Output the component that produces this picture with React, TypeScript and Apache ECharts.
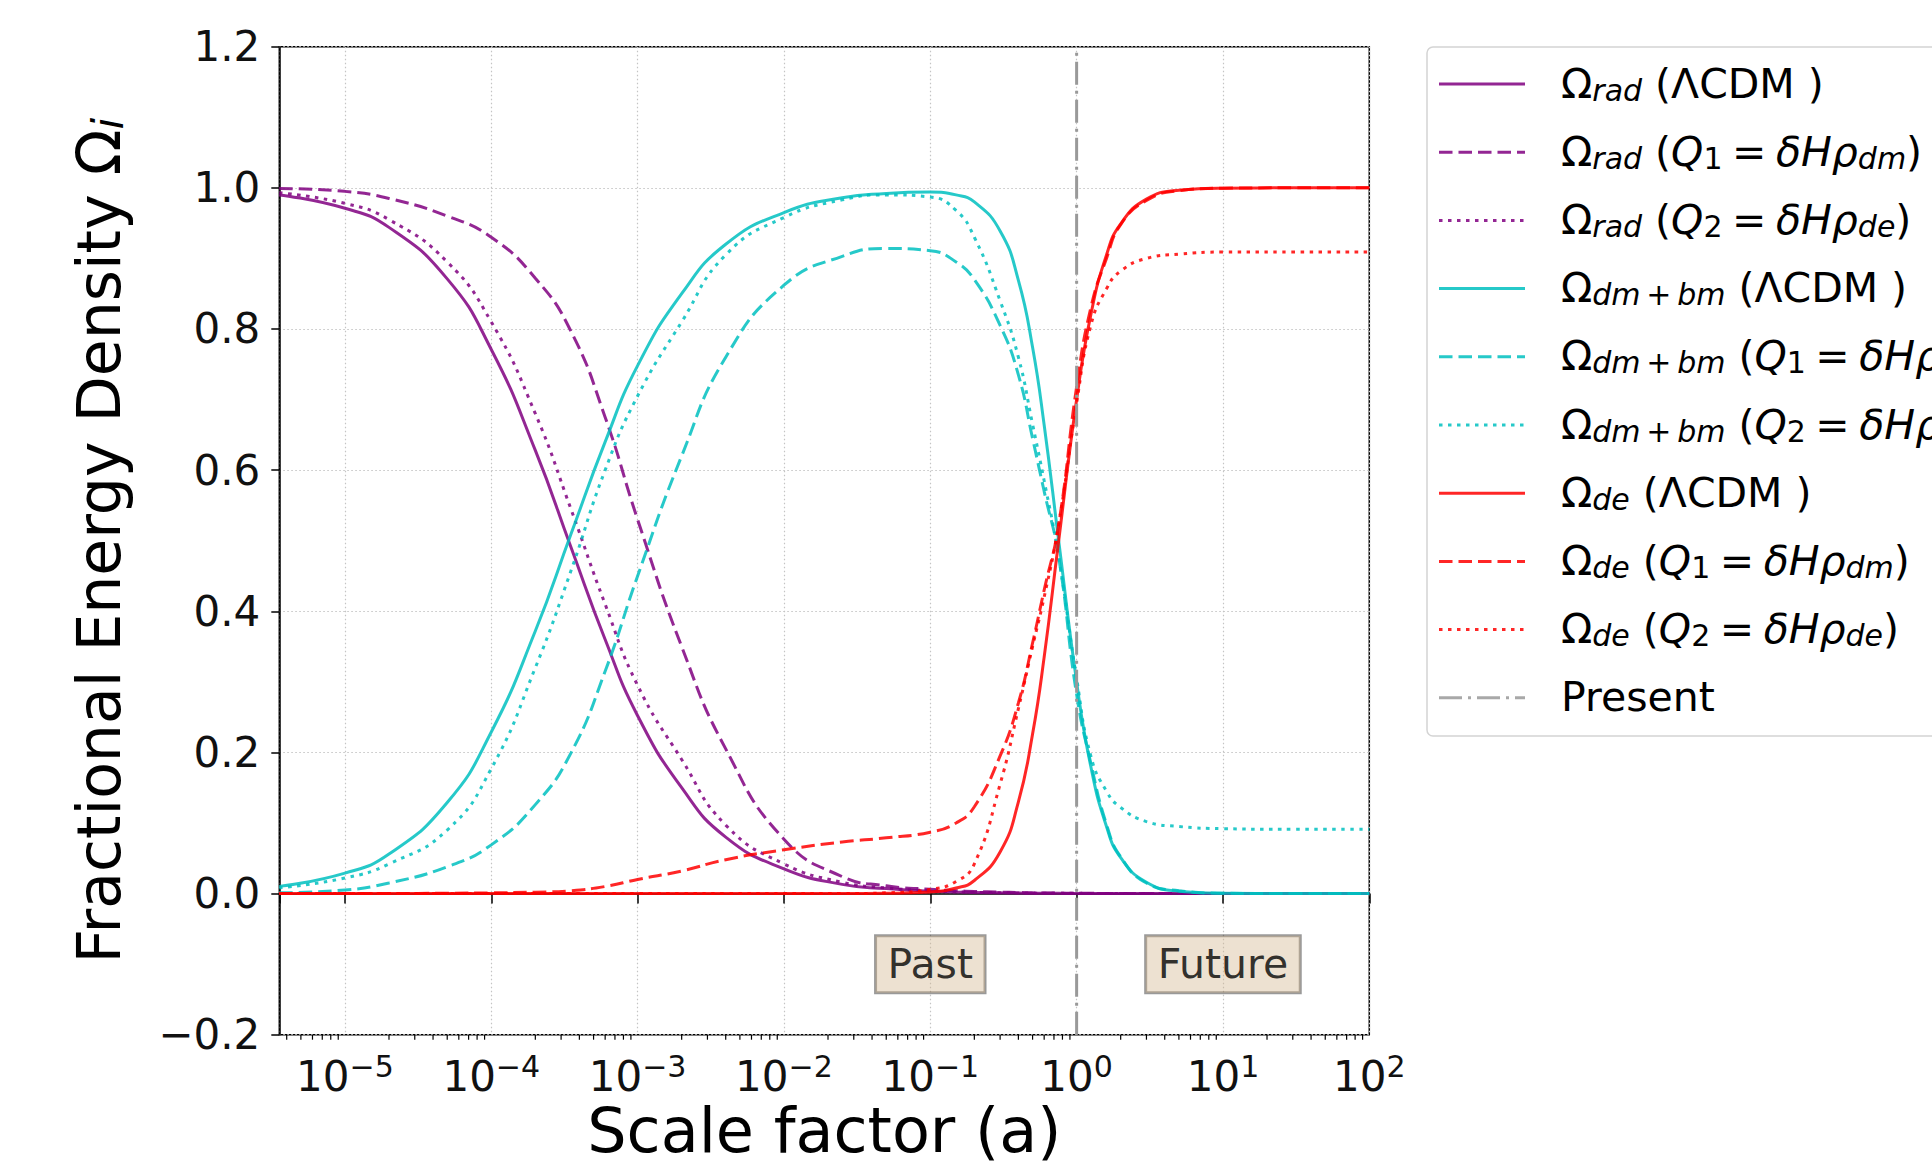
import React, { useEffect, useRef } from "react";
import * as echarts from "echarts";

const FONT = "DejaVu Sans";
const PURPLE = "#800080";
const CYAN = "#00BFBF";
const RED = "#FF0000";
const GRAY = "#999999";

// Scale factor a (x values, log axis)
const scaleFactor = [3.56e-6, 1e-5, 2e-5, 5e-5, 1e-4, 2e-4, 3.5e-4, 6e-4, 1e-3, 2e-3, 4e-3, 1e-2, 2.5e-2, 5e-2, 0.1, 0.15, 0.2, 0.3, 0.4, 0.5, 0.6, 0.75, 1.0, 1.25, 1.6, 2.0, 3.0, 5.0, 10, 30, 100];

// Radiation
const radLCDM = [0.990, 0.971, 0.944, 0.871, 0.771, 0.628, 0.491, 0.360, 0.252, 0.150, 0.080, 0.035, 0.013, 0.007, 0.0033, 0.0022, 0.0016, 0.0010, 0.0007, 0.0005, 0.0004, 0.0003, 0.0002, 0.0001, 0.0001, 0.0001, 0, 0, 0, 0, 0];
const radQ1 = [0.999, 0.995, 0.985, 0.96, 0.93, 0.872, 0.797, 0.675, 0.53, 0.35, 0.205, 0.077, 0.024, 0.011, 0.006, 0.004, 0.003, 0.002, 0.0015, 0.001, 0.0008, 0.0006, 0.0004, 0.0003, 0.0002, 0.0001, 0, 0, 0, 0, 0];
const radQ2 = [0.993, 0.978, 0.955, 0.895, 0.81, 0.68, 0.545, 0.41, 0.295, 0.19, 0.097, 0.042, 0.016, 0.008, 0.004, 0.0025, 0.0018, 0.0012, 0.0008, 0.0006, 0.0005, 0.0004, 0.0003, 0.0002, 0.0001, 0.0001, 0, 0, 0, 0, 0];

// Dark + baryonic matter
const dmLCDM = [0.010, 0.029, 0.056, 0.129, 0.229, 0.372, 0.509, 0.640, 0.748, 0.850, 0.920, 0.965, 0.986, 0.992, 0.994, 0.990, 0.980, 0.939, 0.869, 0.774, 0.664, 0.504, 0.300, 0.180, 0.095, 0.051, 0.016, 0.0034, 0.0004, 0, 0];
const dmQ1 = [0.001, 0.005, 0.015, 0.038, 0.069, 0.126, 0.199, 0.315, 0.45, 0.62, 0.76, 0.862, 0.903, 0.914, 0.911, 0.895, 0.87, 0.805, 0.735, 0.645, 0.57, 0.48, 0.282, 0.185, 0.098, 0.052, 0.015, 0.004, 0.0005, 0, 0];
const dmQ2 = [0.008, 0.022, 0.042, 0.09, 0.177, 0.32, 0.457, 0.60, 0.705, 0.81, 0.905, 0.958, 0.983, 0.99, 0.987, 0.968, 0.93, 0.84, 0.76, 0.665, 0.585, 0.48, 0.305, 0.195, 0.145, 0.122, 0.102, 0.095, 0.092, 0.091, 0.091];

// Dark energy
const deLCDM = [0, 0, 0, 0, 0, 0, 0, 0, 0, 0, 0, 0, 0.00004, 0.0004, 0.0023, 0.0078, 0.0185, 0.059, 0.13, 0.226, 0.335, 0.496, 0.70, 0.82, 0.905, 0.949, 0.984, 0.9966, 0.9996, 1.0, 1.0];
const deQ1 = [0, 0, 0, 0.0005, 0.001, 0.002, 0.004, 0.01, 0.02, 0.032, 0.048, 0.062, 0.073, 0.079, 0.087, 0.1, 0.123, 0.195, 0.27, 0.355, 0.43, 0.52, 0.718, 0.83, 0.9, 0.948, 0.982, 0.996, 0.9995, 1.0, 1.0];
const deQ2 = [0, 0, 0, 0, 0, 0, 0, 0, 0, 0, 0, 0, 0, 0.001, 0.006, 0.017, 0.042, 0.155, 0.262, 0.35, 0.42, 0.52, 0.695, 0.805, 0.857, 0.882, 0.9, 0.906, 0.909, 0.909, 0.909];

// Present marker
const presentX = [1, 1];
const presentY = [-0.2, 1.2];

// Annotations
const annotationText = ["Past", "Future"];
const annotationX = [0.1, 10];
const annotationY = [-0.1, -0.1];

// Axes
const xMin = 3.56e-6;
const xMax = 100;
const yMin = -0.2;
const yMax = 1.2;
const yInterval = 0.2;
const minorMultipliers = [2, 3, 4, 5, 6, 7, 8, 9];
const minorDecades = [-6, -5, -4, -3, -2, -1, 0, 1];

const DASHED = [13.5, 6];
const DOTTED = [3.5, 5.5];
const DASHDOT = [23, 6, 3, 6];

const EQ1 = "{n| (}{i|Q}{sn|1}{sp| }{n|=}{sp| }{i|δHρ}{si|dm}{n|)}";
const EQ2 = "{n| (}{i|Q}{sn|2}{sp| }{n|=}{sp| }{i|δHρ}{si|de}{n|)}";
const DMBM = "{o|Ω}{si|dm}{ss| }{sn|+}{ss| }{si|bm}";

const seriesDefs = [
  { name: "Ω_rad (ΛCDM )", values: radLCDM, color: PURPLE, dash: "solid" as any, legend: "{o|Ω}{si|rad}{n| (ΛCDM )}" },
  { name: "Ω_rad (Q1 = δHρ_dm)", values: radQ1, color: PURPLE, dash: DASHED, legend: "{o|Ω}{si|rad}" + EQ1 },
  { name: "Ω_rad (Q2 = δHρ_de)", values: radQ2, color: PURPLE, dash: DOTTED, legend: "{o|Ω}{si|rad}" + EQ2 },
  { name: "Ω_dm+bm (ΛCDM )", values: dmLCDM, color: CYAN, dash: "solid" as any, legend: DMBM + "{n| (ΛCDM )}" },
  { name: "Ω_dm+bm (Q1 = δHρ_dm)", values: dmQ1, color: CYAN, dash: DASHED, legend: DMBM + EQ1 },
  { name: "Ω_dm+bm (Q2 = δHρ_de)", values: dmQ2, color: CYAN, dash: DOTTED, legend: DMBM + EQ2 },
  { name: "Ω_de (ΛCDM )", values: deLCDM, color: RED, dash: "solid" as any, legend: "{o|Ω}{si|de}{n| (ΛCDM )}" },
  { name: "Ω_de (Q1 = δHρ_dm)", values: deQ1, color: RED, dash: DASHED, legend: "{o|Ω}{si|de}" + EQ1 },
  { name: "Ω_de (Q2 = δHρ_de)", values: deQ2, color: RED, dash: DOTTED, legend: "{o|Ω}{si|de}" + EQ2 },
];

function buildOption(): any {
  const minorTicks: number[][] = [];
  minorDecades.forEach((d) =>
    minorMultipliers.forEach((m) => {
      const v = m * Math.pow(10, d);
      if (v >= xMin && v <= xMax) minorTicks.push([v, yMin]);
    })
  );

  const lineSeries = seriesDefs.map((s) => ({
    name: s.name,
    type: "line",
    data: scaleFactor.map((a, i) => [a, s.values[i]]),
    showSymbol: false,
    symbol: "none",
    smooth: 0.5,
    lineStyle: { color: s.color, width: 3, type: s.dash, opacity: 0.85, cap: "butt" },
    itemStyle: { color: s.color },
    silent: true,
    z: 3,
  }));

  const legendRich = {
    o: { fill: "#000", fontFamily: FONT, fontSize: 41, lineHeight: 42, verticalAlign: "top" },
    n: { fill: "#000", fontFamily: FONT, fontSize: 41, lineHeight: 42, verticalAlign: "top" },
    sp: { fill: "#000", fontFamily: FONT, fontSize: 30, lineHeight: 42, verticalAlign: "top" },
    i: { fill: "#000", fontFamily: FONT, fontSize: 41, fontStyle: "italic", lineHeight: 42, verticalAlign: "top" },
    si: { fill: "#000", fontFamily: FONT, fontSize: 30, fontStyle: "italic", lineHeight: 18, verticalAlign: "bottom" },
    sn: { fill: "#000", fontFamily: FONT, fontSize: 30, lineHeight: 18, verticalAlign: "bottom" },
    ss: { fill: "#000", fontFamily: FONT, fontSize: 18, lineHeight: 18, verticalAlign: "bottom" },
  };

  const legendItems: any[] = [];
  const allLegend = [
    ...seriesDefs.map((s) => ({ text: s.legend, color: s.color, dash: s.dash === "solid" ? null : s.dash })),
    { text: "{n|Present}", color: GRAY, dash: DASHDOT },
  ];
  allLegend.forEach((e, i) => {
    const cy = 84 + i * 68.2;
    legendItems.push({
      type: "line",
      shape: { x1: 1439, y1: cy, x2: 1525, y2: cy },
      style: { stroke: e.color, lineWidth: 3, lineDash: e.dash || undefined, opacity: 0.85 },
      z: 10,
    });
    legendItems.push({
      type: "text",
      x: 1561,
      y: cy,
      style: { text: e.text, rich: legendRich, verticalAlign: "middle", align: "left", fill: "#000", fontFamily: FONT, fontSize: 41 },
      z: 10,
    });
  });

  return {
    animation: false,
    backgroundColor: "#ffffff",
    grid: {
      left: 279.3,
      top: 46.7,
      width: 1090,
      height: 988,
      show: true,
      borderColor: "#000",
      borderWidth: 1.5,
      containLabel: false,
      outerBoundsMode: "none",
    },
    xAxis: {
      type: "log",
      logBase: 10,
      min: xMin,
      max: xMax,
      name: "Scale factor (a)",
      nameLocation: "middle",
      nameGap: 64.5,
      nameMoveOverlap: false,
      nameTextStyle: { fontFamily: FONT, fontSize: 62, lineHeight: 62, color: "#000" },
      axisLine: { show: true, lineStyle: { color: "#000", width: 1.5 } },
      axisTick: { show: true, inside: false, length: 10, lineStyle: { color: "#000", width: 1.5 } },
      minorTick: { show: false },
      splitLine: { show: true, lineStyle: { color: "#c4c4c4", width: 1.2, type: [1.5, 2.5] } },
      axisLabel: {
        margin: 17,
        formatter: (v: number) => {
          const l = Math.log10(v);
          const e = Math.round(l);
          if (Math.abs(l - e) > 1e-6) return "";
          return `{b|10}{s|${e < 0 ? "−" : ""}${Math.abs(e)}}`;
        },
        rich: {
          b: { fontFamily: FONT, fontSize: 42, color: "#111", lineHeight: 46, verticalAlign: "bottom" },
          s: { fontFamily: FONT, fontSize: 30, color: "#111", lineHeight: 20, verticalAlign: "top" },
        },
      },
    },
    yAxis: {
      type: "value",
      min: yMin,
      max: yMax,
      interval: yInterval,
      name: "{n|Fractional Energy Density Ω}{s|i}",
      nameLocation: "middle",
      nameGap: 150,
      nameTextStyle: {
        fontFamily: FONT,
        fontSize: 60,
        color: "#000",
        rich: {
          n: { fontFamily: FONT, fontSize: 60, color: "#000", lineHeight: 60, verticalAlign: "top" },
          s: { fontFamily: FONT, fontSize: 42, fontStyle: "italic", color: "#000", lineHeight: 26, verticalAlign: "bottom" },
        },
      },
      axisLine: { show: true, lineStyle: { color: "#000", width: 1.5 } },
      axisTick: { show: true, inside: false, length: 8, lineStyle: { color: "#000", width: 1.5 } },
      splitLine: { show: true, lineStyle: { color: "#c4c4c4", width: 1.2, type: [1.5, 2.5] } },
      axisLabel: {
        margin: 19,
        fontFamily: FONT,
        fontSize: 42,
        color: "#111",
        formatter: (v: number) => (Math.abs(v) < 1e-9 ? "0.0" : (v < 0 ? "−" : "") + Math.abs(v).toFixed(1)),
      },
    },
    graphic: [
      {
        type: "rect",
        shape: { x: 1427, y: 47, width: 640, height: 689, r: 6 },
        style: { fill: "rgba(255,255,255,0.8)", stroke: "#d4d4d4", lineWidth: 1.5 },
        z: 9,
      },
      ...legendItems,
    ],
    series: [
      ...lineSeries,
      {
        name: "Present",
        type: "line",
        data: presentX.map((x, i) => [x, presentY[i]]),
        showSymbol: false,
        symbol: "none",
        lineStyle: { color: GRAY, width: 3, type: DASHDOT, cap: "butt" },
        silent: true,
        z: 4,
      },
      {
        name: "annotations",
        type: "scatter",
        data: annotationX.map((x, i) => ({ value: [x, annotationY[i]], name: annotationText[i] })),
        symbolSize: 1,
        itemStyle: { color: "transparent" },
        label: {
          show: true,
          position: "inside",
          formatter: "{b}",
          fontFamily: FONT,
          fontSize: 41,
          color: "#000",
          lineHeight: 45,
          backgroundColor: "rgba(210,180,140,0.5)",
          borderColor: "rgba(0,0,0,0.5)",
          borderWidth: 1.5,
          padding: [6, 12, 6, 12],
        },
        silent: true,
        z: 6,
      },
      {
        name: "minorTicks",
        type: "custom",
        data: minorTicks,
        clip: false,
        silent: true,
        renderItem: (params: any, api: any) => {
          const p = api.coord([api.value(0), api.value(1)]);
          return {
            type: "line",
            shape: { x1: p[0], y1: p[1], x2: p[0], y2: p[1] + 5 },
            style: { stroke: "#000", lineWidth: 1.2 },
          };
        },
        z: 5,
      },
    ],
  };
}

export default function App() {
  const ref = useRef<HTMLDivElement>(null);
  useEffect(() => {
    document.body.style.margin = "0";
    const chart = echarts.init(ref.current as HTMLDivElement, null, { renderer: "svg" });
    chart.setOption(buildOption());
    return () => chart.dispose();
  }, []);
  return <div ref={ref} style={{ width: 1932, height: 1168 }} />;
}
